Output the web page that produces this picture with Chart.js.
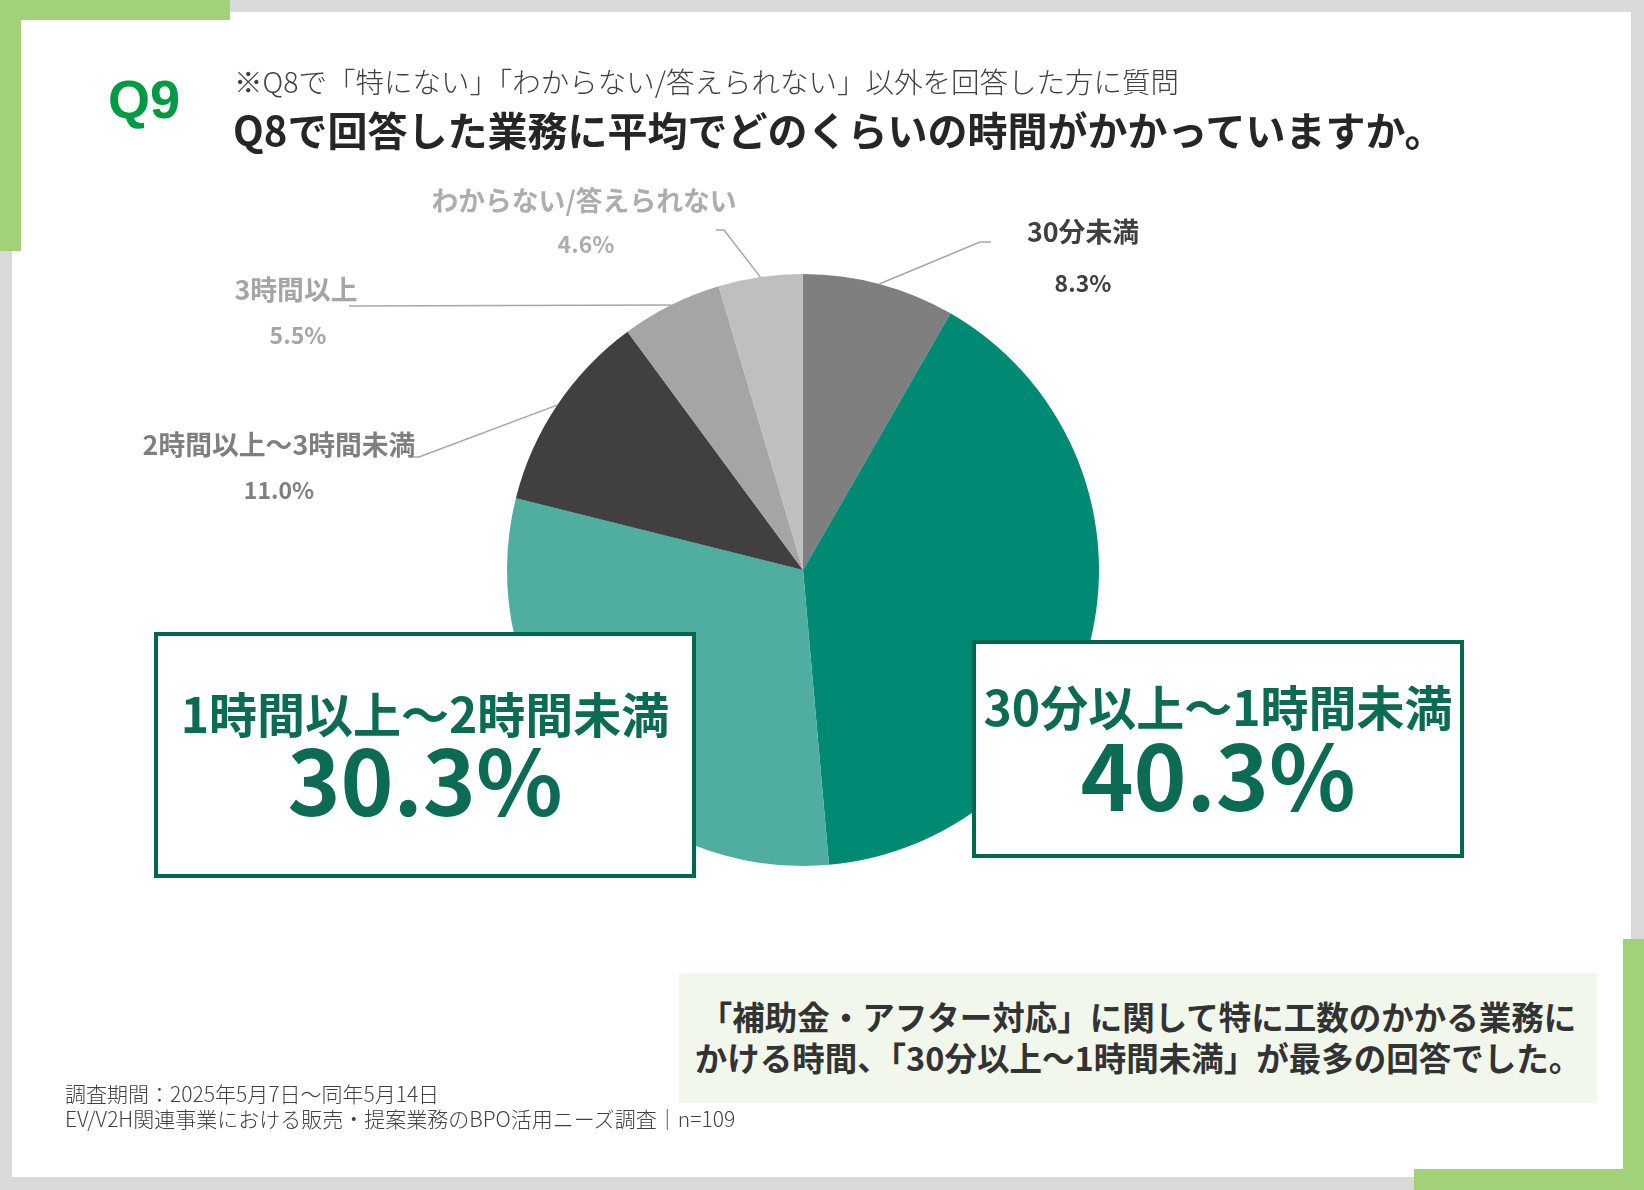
<!DOCTYPE html>
<html lang="ja">
<head>
<meta charset="utf-8">
<script src="https://cdn.jsdelivr.net/npm/chart.js@4.4.1/dist/chart.umd.min.js"></script>
<style>
  html, body { margin: 0; padding: 0; }
  body { width: 1644px; height: 1190px; position: relative; overflow: hidden; background: #d9d9d9;
         font-family: "Noto Sans CJK JP", "Noto Sans", sans-serif; }
  .card { position: absolute; left: 12px; top: 12px; width: 1619px; height: 1165px; background: #fff; }
  .accent { position: absolute; background: #a3d177; }
  #myPieChart { position: absolute; left: 0; top: 0; }
  .q { position: absolute; left: 108px; top: 68px; font: bold 54px "Liberation Sans", Arial, sans-serif; color: #009944; }
  .sub { position: absolute; left: 234px; top: 63px; font-size: 28.5px; font-weight: 300; color: #404040; line-height: 36px; white-space: nowrap; }
  .title { position: absolute; left: 233px; top: 104px; font-size: 40px; font-weight: bold; color: #262626; line-height: 50px; white-space: nowrap; }
  .note { position: absolute; left: 679px; top: 973px; width: 918px; height: 130px; background: #f2f7ec;
          text-align: center; font-size: 32.5px; font-weight: bold; color: #333; line-height: 41px; padding-top: 22px; box-sizing: border-box; white-space: nowrap; }
  .foot { position: absolute; left: 65px; top: 1081px; font-size: 21px; color: #404040; line-height: 25px; white-space: nowrap; font-weight: 300; }
</style>
</head>
<body>
<div class="card"></div>
<div class="accent" style="left:0;top:0;width:230px;height:20px"></div>
<div class="accent" style="left:0;top:0;width:21px;height:251px"></div>
<div class="accent" style="left:1623px;top:939px;width:21px;height:251px"></div>
<div class="accent" style="left:1414px;top:1169px;width:230px;height:21px"></div>

<canvas id="myPieChart" width="1644" height="1190"></canvas>

<div class="q">Q9</div>
<div class="sub">※Q8で「特にない」「わからない/答えられない」以外を回答した方に質問</div>
<div class="title">Q8で回答した業務に平均でどのくらいの時間がかかっていますか。</div>
<div class="note">「補助金・アフター対応」に関して特に工数のかかる業務に<br>かける時間、「30分以上～1時間未満」が最多の回答でした。</div>
<div class="foot">調査期間：2025年5月7日～同年5月14日<br>EV/V2H関連事業における販売・提案業務のBPO活用ニーズ調査｜n=109</div>

<script>
const categories = ['30分未満', '30分以上～1時間未満', '1時間以上～2時間未満', '2時間以上～3時間未満', '3時間以上', 'わからない/答えられない'];
const shares = [8.3, 40.3, 30.3, 11.0, 5.5, 4.6];
const sliceColors = ['#7f7f7f', '#008a74', '#4fae9f', '#404040', '#a5a5a5', '#bfbfbf'];

// outer labels: text centres, elbow of the leader line, end of short tick
const outerLabels = {
    0: { name: [1083, 232], pct: [1083, 283], elbow: [980, 242], tick: 991, color: '#404040' },
    3: { name: [279, 445], pct: [279, 490], elbow: [419, 457], tick: 412, color: '#7f7f7f' },
    4: { name: [296, 290], pct: [298, 335], elbow: [349, 306], tick: 349, color: '#a5a5a5' },
    5: { name: [584, 201], pct: [586, 244], elbow: [724, 230], tick: 716, color: '#adadad' }
};
// boxed labels for the two big slices: [left, top, right, bottom], text rows
const boxLabels = {
    1: { rect: [972, 640, 1464, 858], nameY: 708, pctY: 777 },
    2: { rect: [154, 632, 696, 878], nameY: 715, pctY: 782 }
};

const labelPlugin = {
    id: 'pieLabels',
    afterDatasetsDraw(chart) {
        const ctx = chart.ctx;
        const arcs = chart.getDatasetMeta(0).data;
        ctx.save();
        ctx.textAlign = 'center';
        ctx.textBaseline = 'middle';

        arcs.forEach((arc, i) => {
            const lab = outerLabels[i];
            if (!lab) return;
            const mid = (arc.startAngle + arc.endAngle) / 2;
            const ax = arc.x + Math.cos(mid) * arc.outerRadius;
            const ay = arc.y + Math.sin(mid) * arc.outerRadius;
            ctx.strokeStyle = '#a6a6a6';
            ctx.lineWidth = 1.5;
            ctx.beginPath();
            ctx.moveTo(ax, ay);
            ctx.lineTo(lab.elbow[0], lab.elbow[1]);
            ctx.lineTo(lab.tick, lab.elbow[1]);
            ctx.stroke();

            ctx.fillStyle = lab.color;
            ctx.font = 'bold 26.8px "Noto Sans CJK JP"';
            ctx.fillText(categories[i], lab.name[0], lab.name[1]);
            ctx.font = 'bold 23px "Noto Sans CJK JP"';
            ctx.fillText(shares[i].toFixed(1) + '%', lab.pct[0], lab.pct[1]);
        });

        Object.keys(boxLabels).forEach(k => {
            const i = Number(k);
            const b = boxLabels[k];
            const [x0, y0, x1, y1] = b.rect;
            ctx.fillStyle = '#ffffff';
            ctx.fillRect(x0, y0, x1 - x0, y1 - y0);
            ctx.strokeStyle = '#00684f';
            ctx.lineWidth = 4;
            ctx.strokeRect(x0 + 2, y0 + 2, x1 - x0 - 4, y1 - y0 - 4);
            const cx = (x0 + x1) / 2;
            ctx.fillStyle = '#0b6b55';
            ctx.font = 'bold 48px "Noto Sans CJK JP"';
            ctx.fillText(categories[i], cx, b.nameY);
            ctx.font = 'bold 90px "Noto Sans CJK JP"';
            ctx.fillText(shares[i].toFixed(1) + '%', cx, b.pctY);
        });
        ctx.restore();
    }
};

let myPieChart = new Chart(document.getElementById('myPieChart').getContext('2d'), {
    type: 'pie',
    data: {
        labels: categories,
        datasets: [{
            data: shares,
            backgroundColor: sliceColors,
            borderWidth: 0,
            hoverOffset: 0,
            offset: 0
        }]
    },
    options: {
        responsive: false,
        animation: false,
        devicePixelRatio: 1,
        events: [],
        layout: { padding: { left: 507, right: 545, top: 274, bottom: 324 } },
        plugins: {
            legend: { display: false },
            tooltip: { enabled: false }
        }
    },
    plugins: [labelPlugin]
});
</script>
</body>
</html>
